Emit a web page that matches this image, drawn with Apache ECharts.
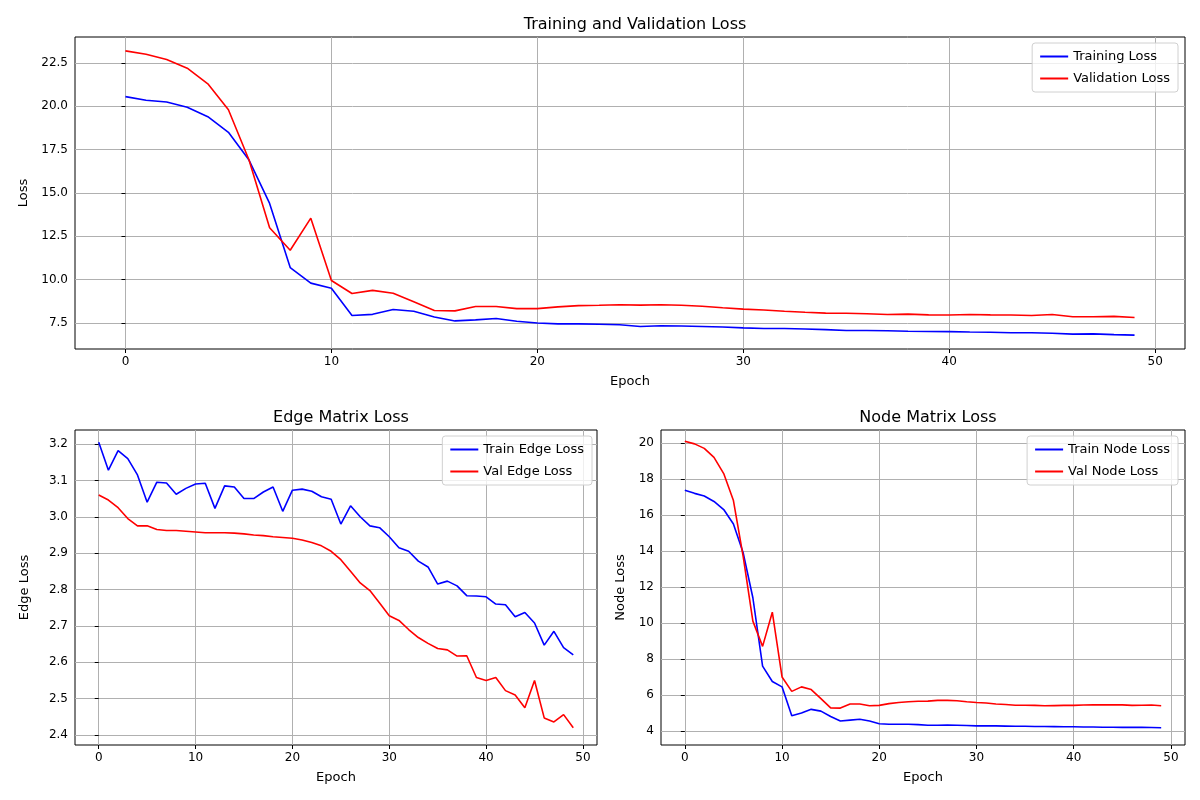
<!DOCTYPE html>
<html>
<head>
<meta charset="utf-8">
<script src="https://cdn.jsdelivr.net/npm/echarts@6/dist/echarts.min.js"></script>
<style>
  html, body { margin: 0; padding: 0; background: #fff; }
  #chart { width: 1200px; height: 800px; }
</style>
</head>
<body>
<div id="chart"></div>
<script>
// ── Data ─────────────────────────────────────────────────────────────────
var epochs = [];
for (var i = 0; i < 50; i++) epochs.push(i);

var trainLoss = [20.56, 20.35, 20.25, 19.95, 19.4, 18.5, 16.9, 14.4, 10.7, 9.8, 9.5, 7.93, 8.0, 8.28, 8.18, 7.85, 7.62, 7.68, 7.76, 7.6,
  7.5, 7.45, 7.45, 7.43, 7.4, 7.3, 7.34, 7.33, 7.3, 7.27, 7.22, 7.18, 7.18, 7.15, 7.12, 7.07, 7.07, 7.05, 7.02, 7.01,
  7.0, 6.98, 6.97, 6.94, 6.94, 6.91, 6.86, 6.87, 6.83, 6.8];
var valLoss = [23.2, 23.0, 22.7, 22.2, 21.3, 19.8, 16.9, 13.0, 11.7, 13.55, 9.95, 9.2, 9.38, 9.22, 8.72, 8.22, 8.2, 8.45, 8.45, 8.33,
  8.33, 8.43, 8.5, 8.52, 8.55, 8.53, 8.55, 8.52, 8.47, 8.38, 8.3, 8.25, 8.18, 8.12, 8.07, 8.06, 8.03, 7.99, 8.01, 7.97,
  7.96, 7.99, 7.97, 7.96, 7.93, 7.99, 7.86, 7.86, 7.88, 7.82];

var trainEdge = [3.205, 3.128, 3.182, 3.16, 3.115, 3.04, 3.095, 3.093, 3.062, 3.078, 3.09, 3.092, 3.023, 3.085, 3.082, 3.05, 3.05, 3.068, 3.082, 3.015,
  3.073, 3.076, 3.07, 3.055, 3.048, 2.98, 3.03, 3.0, 2.975, 2.97, 2.945, 2.915, 2.905, 2.878, 2.862, 2.815, 2.823, 2.81, 2.783, 2.782,
  2.78, 2.76, 2.758, 2.725, 2.737, 2.708, 2.647, 2.685, 2.64, 2.62];
var valEdge = [3.06, 3.046, 3.025, 2.995, 2.975, 2.975, 2.965, 2.962, 2.962, 2.96, 2.958, 2.956, 2.956, 2.956, 2.955, 2.953, 2.95, 2.948, 2.945, 2.943,
  2.941, 2.936, 2.929, 2.92, 2.905, 2.882, 2.85, 2.818, 2.797, 2.763, 2.728, 2.715, 2.69, 2.668, 2.652, 2.638, 2.634, 2.617, 2.618, 2.558,
  2.55, 2.558, 2.522, 2.51, 2.475, 2.55, 2.447, 2.436, 2.456, 2.42];

var trainNode = [17.37, 17.2, 17.05, 16.75, 16.3, 15.5, 13.9, 11.4, 7.6, 6.75, 6.45, 4.85, 5.0, 5.2, 5.1, 4.8, 4.55, 4.6, 4.65, 4.55,
  4.4, 4.37, 4.37, 4.37, 4.35, 4.32, 4.32, 4.33, 4.32, 4.3, 4.28, 4.28, 4.28, 4.27, 4.26, 4.26, 4.25, 4.25, 4.24, 4.23,
  4.23, 4.22, 4.22, 4.21, 4.21, 4.2, 4.2, 4.2, 4.19, 4.18];
var valNode = [20.1, 19.95, 19.7, 19.2, 18.3, 16.8, 13.7, 10.1, 8.7, 10.6, 7.0, 6.2, 6.45, 6.3, 5.8, 5.28, 5.27, 5.5, 5.5, 5.4,
  5.42, 5.52, 5.58, 5.62, 5.65, 5.66, 5.7, 5.7, 5.68, 5.62, 5.58, 5.55, 5.5, 5.47, 5.43, 5.43, 5.42, 5.4, 5.41, 5.42,
  5.42, 5.44, 5.45, 5.46, 5.45, 5.45, 5.42, 5.43, 5.44, 5.4];

var epochTicks = [0, 10, 20, 30, 40, 50];
var lossTicks = [7.5, 10.0, 12.5, 15.0, 17.5, 20.0, 22.5];
var edgeTicks = [2.4, 2.5, 2.6, 2.7, 2.8, 2.9, 3.0, 3.1, 3.2];
var nodeTicks = [4, 6, 8, 10, 12, 14, 16, 18, 20];

// ── Helpers ──────────────────────────────────────────────────────────────
var FONT = 'DejaVu Sans';
var GRID_COLOR = '#b0b0b0';

function pairs(ys) {
  return ys.map(function (v, i) { return [epochs[i], v]; });
}

function axis(gridIndex, min, max, ticks, name, decimals, isX) {
  return {
    type: 'value',
    gridIndex: gridIndex,
    min: min,
    max: max,
    name: name,
    nameLocation: 'middle',
    nameGap: isX ? 26 : (decimals ? 44 : 34),
    nameTextStyle: { color: '#000', fontFamily: FONT, fontSize: 13 },
    axisLine: { show: false },
    axisTick: { show: true, length: 4, lineStyle: { color: '#000' }, customValues: ticks },
    axisLabel: {
      color: '#000', fontFamily: FONT, fontSize: 12, margin: 7, customValues: ticks,
      formatter: function (v) { return decimals ? v.toFixed(decimals) : String(Math.round(v)); }
    },
    splitLine: { show: true, lineStyle: { color: GRID_COLOR, width: 1 } }
  };
}

function line(name, data, color, xi, yi) {
  return {
    name: name, type: 'line', data: pairs(data), xAxisIndex: xi, yAxisIndex: yi,
    symbol: 'none', lineStyle: { color: color, width: 1.6 }, itemStyle: { color: color },
    animation: false
  };
}

function legend(names, right, top) {
  return {
    data: names, orient: 'vertical', right: right, top: top,
    icon: 'rect', itemWidth: 28, itemHeight: 2, itemGap: 9,
    padding: [7, 8, 7, 8], borderColor: '#d0d0d0', borderWidth: 1, borderRadius: 3,
    backgroundColor: 'rgba(255,255,255,0.8)',
    textStyle: { color: '#000', fontFamily: FONT, fontSize: 13 }
  };
}

var grids = [
  { left: 75, top: 37, width: 1110, height: 312, show: true, borderColor: '#000', borderWidth: 1 },
  { left: 75, top: 430, width: 522, height: 315, show: true, borderColor: '#000', borderWidth: 1 },
  { left: 661, top: 430, width: 524, height: 315, show: true, borderColor: '#000', borderWidth: 1 }
];

var option = {
  backgroundColor: '#fff',
  animation: false,
  title: [
    { text: 'Training and Validation Loss', left: 630, top: 12, textAlign: 'center', textStyle: { fontFamily: FONT, fontSize: 16, fontWeight: 'normal', color: '#000' } },
    { text: 'Edge Matrix Loss', left: 336, top: 405, textAlign: 'center', textStyle: { fontFamily: FONT, fontSize: 16, fontWeight: 'normal', color: '#000' } },
    { text: 'Node Matrix Loss', left: 923, top: 405, textAlign: 'center', textStyle: { fontFamily: FONT, fontSize: 16, fontWeight: 'normal', color: '#000' } }
  ],
  grid: grids,
  legend: [
    legend(['Training Loss', 'Validation Loss'], 22, 43),
    legend(['Train Edge Loss', 'Val Edge Loss'], 608, 436),
    legend(['Train Node Loss', 'Val Node Loss'], 22, 436)
  ],
  xAxis: [
    axis(0, -2.45, 51.45, epochTicks, 'Epoch', 0, true),
    axis(1, -2.45, 51.45, epochTicks, 'Epoch', 0, true),
    axis(2, -2.45, 51.45, epochTicks, 'Epoch', 0, true)
  ],
  yAxis: [
    axis(0, 6.0, 24.0, lossTicks, 'Loss', 1, false),
    axis(1, 2.3725, 3.2385, edgeTicks, 'Edge Loss', 1, false),
    axis(2, 3.22, 20.72, nodeTicks, 'Node Loss', 0, false)
  ],
  series: [
    line('Training Loss', trainLoss, '#0000ff', 0, 0),
    line('Validation Loss', valLoss, '#ff0000', 0, 0),
    line('Train Edge Loss', trainEdge, '#0000ff', 1, 1),
    line('Val Edge Loss', valEdge, '#ff0000', 1, 1),
    line('Train Node Loss', trainNode, '#0000ff', 2, 2),
    line('Val Node Loss', valNode, '#ff0000', 2, 2)
  ]
};

var chart = echarts.init(document.getElementById('chart'), null, { renderer: 'canvas' });
chart.setOption(option);
</script>
</body>
</html>
